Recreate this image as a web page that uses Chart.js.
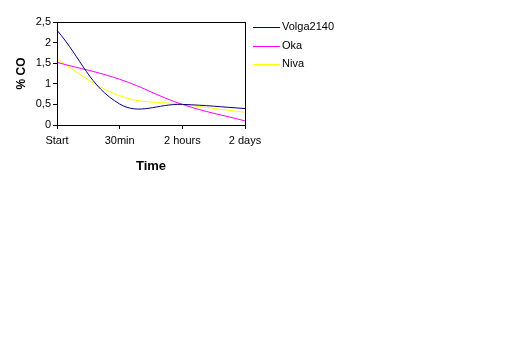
<!DOCTYPE html>
<html>
<head>
<meta charset="utf-8">
<script src="https://cdn.jsdelivr.net/npm/chart.js@4"></script>
<style>
  html, body { margin:0; padding:0; background:#fff; }
  #wrap { width:519px; height:346px; position:relative; }
</style>
</head>
<body>
<div id="wrap"><canvas id="co-chart" width="519" height="346"></canvas></div>
<script>
const timeLabels = ['Start', '30min', '2 hours', '2 days'];
const volgaVals  = [2.3, 0.51, 0.5, 0.4];
const okaVals    = [1.52, 1.11, 0.5, 0.1];
const nivaVals   = [1.59, 0.71, 0.5, 0.31];
const yTicks     = [0, 0.5, 1, 1.5, 2, 2.5];

const FONT = 'Liberation Sans, Arial, sans-serif';

// frame around plot area + legend at the right (Excel style)
const framePlugin = {
  id: 'frame',
  afterDraw(chart) {
    const {ctx, chartArea:a} = chart;
    ctx.save();
    ctx.strokeStyle = '#000';
    ctx.lineWidth = 1;
    ctx.strokeRect(Math.round(a.left)+0.5, Math.round(a.top)+0.5,
                   Math.round(a.right-a.left), Math.round(a.bottom-a.top));
    // legend
    ctx.font = '11px ' + FONT;
    ctx.textBaseline = 'middle';
    ctx.fillStyle = '#000';
    chart.data.datasets.forEach((ds, i) => {
      const y = 27 + i*18.5;
      ctx.strokeStyle = ds.borderColor;
      ctx.beginPath();
      ctx.moveTo(253, Math.round(y)+0.5);
      ctx.lineTo(280, Math.round(y)+0.5);
      ctx.stroke();
      ctx.fillText(ds.label, 282, y);
    });
    ctx.restore();
  }
};

const ctx = document.getElementById('co-chart').getContext('2d');
new Chart(ctx, {
  type: 'line',
  data: {
    labels: timeLabels,
    datasets: [
      {label:'Volga2140', data:volgaVals, borderColor:'#000080'},
      {label:'Oka',       data:okaVals,   borderColor:'#ff00ff'},
      {label:'Niva',      data:nivaVals,  borderColor:'#ffff00'},
    ]
  },
  options: {
    responsive:false, animation:false,
    elements:{ line:{borderWidth:1, tension:0.4, fill:false}, point:{radius:0} },
    layout:{ padding:{left:14, top:22, right:274, bottom:168} },
    plugins:{ legend:{display:false}, tooltip:{enabled:false} },
    scales:{
      x:{
        offset:false,
        grid:{drawOnChartArea:false, tickLength:4, color:'#000'},
        border:{color:'#000'},
        ticks:{color:'#000', font:{family:FONT, size:11}, padding:5, maxRotation:0},
        title:{display:true, text:'Time', color:'#000', font:{family:FONT, size:13, weight:'bold'}, padding:{top:8}},
        afterFit: s => { s.height = 53; }
      },
      y:{
        min:0, max:2.5,
        afterBuildTicks: s => { s.ticks = yTicks.map(v => ({value:v})); },
        grid:{drawOnChartArea:false, tickLength:4, color:'#000'},
        border:{color:'#000'},
        ticks:{color:'#000', font:{family:FONT, size:11}, padding:2,
               callback: v => String(v).replace('.', ',')},
        title:{display:true, text:'% CO', color:'#000', font:{family:FONT, size:12, weight:'bold'}, padding:0},
        afterFit: s => { s.width = 43; }
      }
    }
  },
  plugins:[framePlugin]
});
</script>
</body>
</html>
